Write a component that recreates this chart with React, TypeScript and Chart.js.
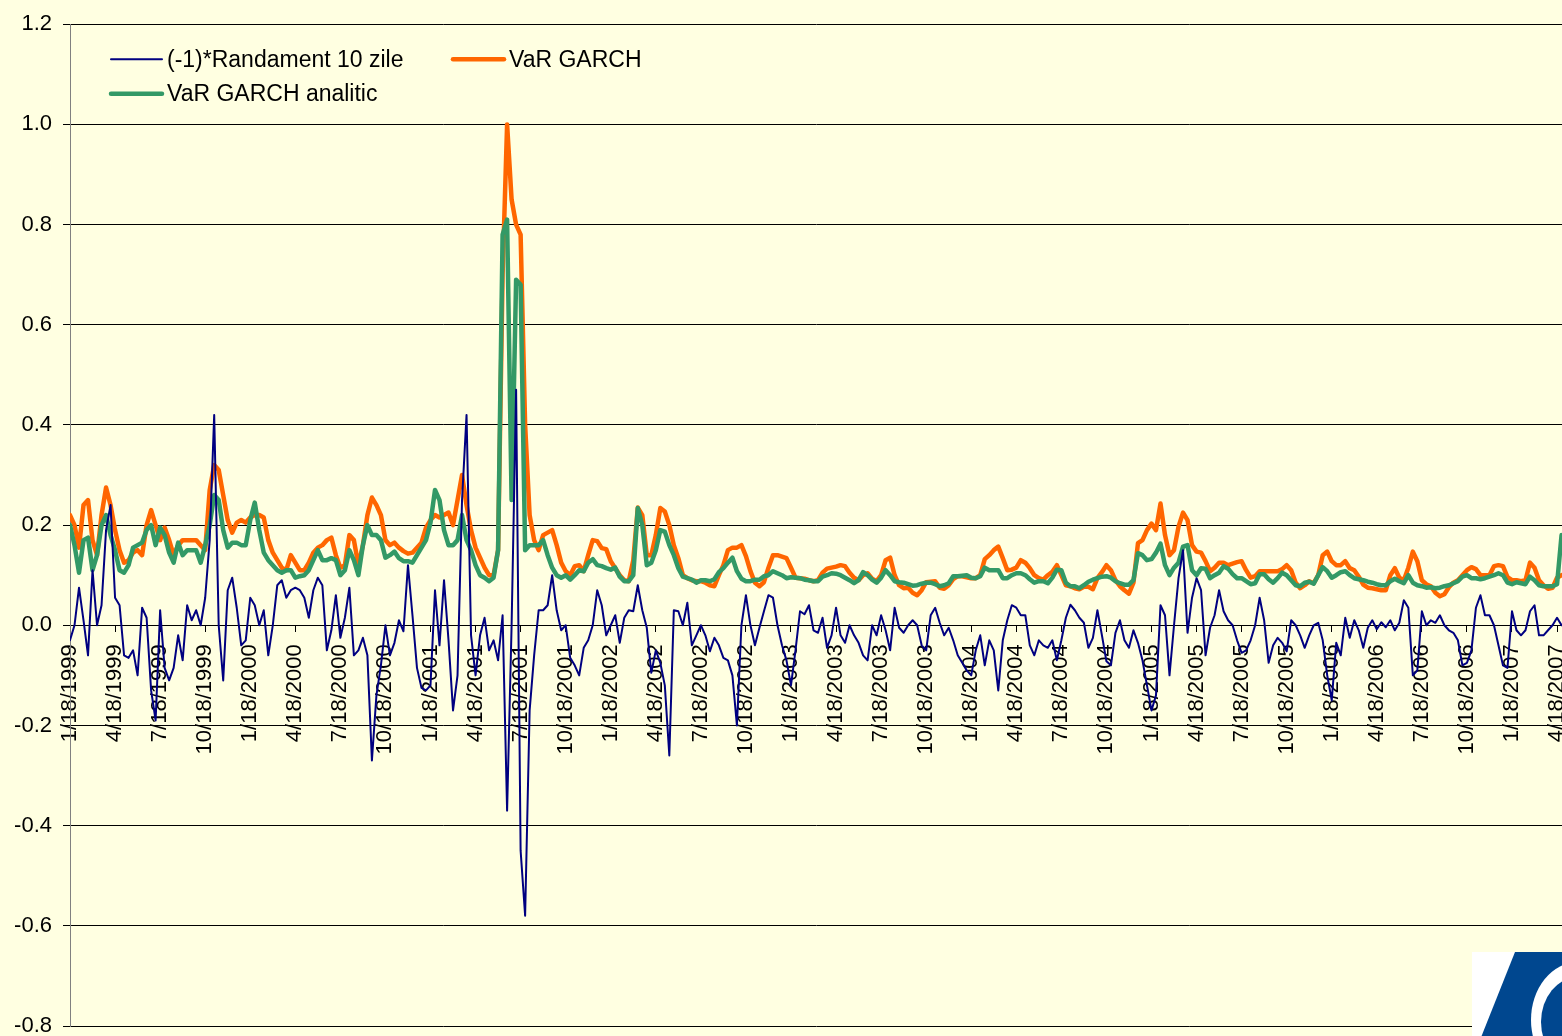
import React, { useEffect, useRef } from 'react';
import { Chart, registerables } from 'chart.js';

Chart.register(...registerables);

// ---------------- data ----------------
// values are sampled 10 times per quarter, starting 1/18/1999
const SAMPLES_PER_QUARTER = 10;

const quarterLabels = [
  '1/18/1999', '4/18/1999', '7/18/1999', '10/18/1999',
  '1/18/2000', '4/18/2000', '7/18/2000', '10/18/2000',
  '1/18/2001', '4/18/2001', '7/18/2001', '10/18/2001',
  '1/18/2002', '4/18/2002', '7/18/2002', '10/18/2002',
  '1/18/2003', '4/18/2003', '7/18/2003', '10/18/2003',
  '1/18/2004', '4/18/2004', '7/18/2004', '10/18/2004',
  '1/18/2005', '4/18/2005', '7/18/2005', '10/18/2005',
  '1/18/2006', '4/18/2006', '7/18/2006', '10/18/2006',
  '1/18/2007', '4/18/2007',
];

const yTickValues = [-0.8, -0.6, -0.4, -0.2, 0, 0.2, 0.4, 0.6, 0.8, 1.0, 1.2];

const seriesNames = ['(-1)*Randament 10 zile', 'VaR GARCH', 'VaR GARCH analitic'];
const seriesColors = ['#000080', '#FF6600', '#339966'];

const negReturn10d = [
  -0.03, 0.0, 0.075, 0.01, -0.06, 0.11, 0.0, 0.04, 0.19, 0.24,
  0.055, 0.04, -0.06, -0.065, -0.05, -0.1, 0.035, 0.015, -0.13, -0.19,
  0.03, -0.085, -0.11, -0.085, -0.02, -0.07, 0.04, 0.01, 0.03, 0.0,
  0.055, 0.17, 0.42, 0.0, -0.11, 0.07, 0.095, 0.035, -0.04, -0.03,
  0.055, 0.04, 0.0, 0.03, -0.06, 0.0, 0.08, 0.09, 0.055, 0.07,
  0.075, 0.07, 0.055, 0.015, 0.07, 0.095, 0.08, -0.05, -0.01, 0.06,
  -0.025, 0.015, 0.075, -0.06, -0.05, -0.025, -0.06, -0.27, -0.14, -0.08,
  0.0, -0.06, -0.035, 0.01, -0.012, 0.12, 0.02, -0.085, -0.125, -0.13,
  -0.12, 0.07, -0.04, 0.09, -0.03, -0.17, -0.1, 0.25, 0.42, -0.02,
  -0.1, -0.02, 0.015, -0.05, -0.03, -0.07, 0.02, -0.37, 0.0, 0.47,
  -0.45, -0.58, -0.17, -0.06, 0.03, 0.03, 0.04, 0.1, 0.03, -0.01,
  0.0, -0.065, -0.08, -0.1, -0.045, -0.03, 0.0, 0.07, 0.04, -0.02,
  0.0, 0.02, -0.035, 0.015, 0.03, 0.028, 0.08, 0.03, -0.005, -0.095,
  -0.05, -0.075, -0.12, -0.26, 0.03, 0.028, 0.0, 0.045, -0.04, -0.02,
  0.0, -0.02, -0.052, -0.025, -0.04, -0.065, -0.07, -0.1, -0.2, 0.0,
  0.06, 0.0, -0.04, -0.005, 0.028, 0.06, 0.055, 0.0, -0.04, -0.07,
  -0.12, -0.05, 0.028, 0.022, 0.04, -0.01, -0.015, 0.015, -0.045, -0.02,
  0.035, -0.02, -0.035, 0.0, -0.02, -0.035, -0.06, -0.07, 0.0, -0.02,
  0.02, -0.01, -0.05, 0.035, -0.005, -0.015, 0.0, 0.01, 0.0, -0.04,
  -0.05, 0.02, 0.035, 0.005, -0.02, -0.005, -0.03, -0.06, -0.075, -0.09,
  -0.1, -0.05, -0.02, -0.08, -0.03, -0.05, -0.13, -0.03, 0.01, 0.04,
  0.035, 0.02, 0.02, -0.04, -0.06, -0.03, -0.04, -0.045, -0.03, -0.07,
  -0.03, 0.015, 0.041, 0.03, 0.015, 0.005, -0.045, -0.025, 0.03, -0.02,
  -0.072, -0.08, -0.015, 0.01, -0.03, -0.045, -0.01, -0.035, -0.07, -0.12,
  -0.17, -0.14, 0.04, 0.02, -0.1, 0.0, 0.094, 0.15, -0.015, 0.055,
  0.094, 0.07, -0.06, -0.005, 0.02, 0.07, 0.028, 0.01, 0.0, -0.03,
  -0.055, -0.05, -0.03, 0.0, 0.055, 0.01, -0.075, -0.04, -0.025, -0.035,
  -0.052, 0.01, 0.0, -0.02, -0.045, -0.02, 0.0, 0.005, -0.03, -0.1,
  -0.15, -0.035, -0.06, 0.015, -0.025, 0.01, -0.01, -0.045, -0.005, 0.01,
  -0.008, 0.006, -0.004, 0.01, -0.01, 0.005, 0.05, 0.035, -0.1, -0.09,
  0.028, 0.0, 0.01, 0.005, 0.02, 0.0, -0.01, -0.015, -0.03, -0.08,
  -0.075, -0.05, 0.035, 0.06, 0.02, 0.02, 0.0, -0.04, -0.08, -0.085,
  0.028, -0.01, -0.02, -0.01, 0.028, 0.04, -0.02, -0.02, -0.01, 0.0,
  0.015, 0.0,
];

const varGarch = [
  0.22, 0.2, 0.155, 0.24, 0.25, 0.17, 0.14, 0.22, 0.275, 0.24,
  0.19, 0.15, 0.125, 0.13, 0.145, 0.15, 0.14, 0.2, 0.23, 0.2,
  0.17, 0.195, 0.17, 0.14, 0.16, 0.17, 0.17, 0.17, 0.17, 0.16,
  0.15, 0.27, 0.32, 0.31, 0.26, 0.21, 0.185, 0.205, 0.21, 0.205,
  0.215, 0.22, 0.22, 0.215, 0.17, 0.145, 0.13, 0.115, 0.11, 0.14,
  0.125, 0.11, 0.11, 0.125, 0.145, 0.155, 0.16, 0.17, 0.175, 0.14,
  0.115, 0.12, 0.18, 0.17, 0.12, 0.16, 0.22, 0.255, 0.24, 0.22,
  0.17, 0.16, 0.165, 0.155, 0.148, 0.143, 0.145, 0.155, 0.165, 0.195,
  0.21, 0.22, 0.215, 0.22, 0.225, 0.2, 0.25, 0.3, 0.24, 0.19,
  0.155, 0.135, 0.115, 0.1, 0.1, 0.15, 0.7, 1.0, 0.85, 0.8,
  0.78, 0.4, 0.22, 0.17, 0.15, 0.18, 0.185, 0.19, 0.16, 0.125,
  0.108, 0.1, 0.118, 0.12, 0.108, 0.14, 0.17, 0.168, 0.154, 0.152,
  0.128, 0.114, 0.1, 0.09, 0.088, 0.13, 0.235, 0.22, 0.14, 0.14,
  0.18, 0.234, 0.227, 0.2, 0.16, 0.134, 0.1, 0.094, 0.09, 0.088,
  0.088, 0.085, 0.08, 0.078, 0.1, 0.12, 0.15, 0.155, 0.155, 0.16,
  0.138, 0.108, 0.085, 0.078, 0.086, 0.115, 0.14, 0.14, 0.137, 0.134,
  0.115, 0.095, 0.094, 0.093, 0.09, 0.088, 0.09, 0.105, 0.113, 0.115,
  0.117, 0.12, 0.118, 0.105, 0.095, 0.09, 0.1, 0.104, 0.093, 0.088,
  0.1, 0.13, 0.135, 0.1, 0.08, 0.074, 0.075, 0.065, 0.06, 0.07,
  0.086, 0.087, 0.088, 0.075, 0.073, 0.08, 0.092, 0.098, 0.098, 0.096,
  0.094, 0.094, 0.1, 0.132, 0.14, 0.15, 0.157, 0.134, 0.11, 0.111,
  0.115, 0.13, 0.125, 0.114, 0.1, 0.094, 0.091, 0.1, 0.107, 0.12,
  0.1, 0.08, 0.078, 0.074, 0.072, 0.077, 0.077, 0.072, 0.094, 0.106,
  0.12, 0.11, 0.09, 0.078, 0.07, 0.063, 0.085, 0.164, 0.17, 0.19,
  0.203, 0.19, 0.243, 0.18, 0.14, 0.15, 0.197, 0.225, 0.21, 0.16,
  0.147, 0.145, 0.128, 0.108, 0.115, 0.125, 0.125, 0.12, 0.123, 0.126,
  0.128, 0.11, 0.095, 0.098, 0.108, 0.108, 0.108, 0.108, 0.108, 0.112,
  0.12, 0.11, 0.085, 0.074, 0.08, 0.088, 0.084, 0.1, 0.14, 0.147,
  0.128, 0.12, 0.12, 0.128, 0.114, 0.11, 0.097, 0.081, 0.075, 0.074,
  0.072, 0.07, 0.07, 0.1, 0.114, 0.095, 0.09, 0.115, 0.147, 0.128,
  0.09, 0.082, 0.078, 0.065, 0.058, 0.062, 0.076, 0.085, 0.09, 0.1,
  0.11, 0.116, 0.112, 0.1, 0.1, 0.1, 0.118, 0.12, 0.118, 0.096,
  0.09, 0.09, 0.088, 0.09, 0.125, 0.115, 0.09, 0.08, 0.073, 0.075,
  0.095, 0.1,
];

const varGarchAnalytic = [
  0.2, 0.16, 0.105, 0.17, 0.175, 0.11, 0.14, 0.2, 0.22, 0.18,
  0.15, 0.11, 0.105, 0.12, 0.155, 0.16, 0.165, 0.19, 0.2, 0.16,
  0.195, 0.18, 0.145, 0.125, 0.165, 0.14, 0.15, 0.15, 0.15, 0.125,
  0.16, 0.2, 0.26, 0.25, 0.19, 0.155, 0.165, 0.165, 0.16, 0.16,
  0.21, 0.245, 0.19, 0.145, 0.13, 0.12, 0.11, 0.105, 0.11, 0.11,
  0.095, 0.098, 0.1, 0.11, 0.13, 0.15, 0.13, 0.13, 0.134, 0.13,
  0.1, 0.11, 0.15, 0.13, 0.1, 0.16, 0.2, 0.18, 0.18, 0.17,
  0.135, 0.14, 0.147, 0.134, 0.128, 0.128, 0.125, 0.14, 0.155, 0.17,
  0.205, 0.27, 0.25, 0.19, 0.16, 0.16, 0.17, 0.22, 0.17, 0.15,
  0.12, 0.1, 0.095, 0.088, 0.095, 0.15, 0.78, 0.81, 0.25, 0.69,
  0.68, 0.15, 0.16, 0.16, 0.16, 0.17, 0.14, 0.115, 0.1, 0.095,
  0.1, 0.091, 0.1, 0.11, 0.108, 0.125, 0.132, 0.12, 0.118, 0.114,
  0.111, 0.115, 0.097, 0.088, 0.088, 0.1, 0.234, 0.2, 0.12, 0.125,
  0.15, 0.19, 0.187, 0.16, 0.14, 0.114, 0.097, 0.094, 0.091, 0.085,
  0.09, 0.09, 0.088, 0.092, 0.106, 0.114, 0.125, 0.135, 0.108, 0.093,
  0.088, 0.088, 0.091, 0.091, 0.098, 0.1, 0.108, 0.104, 0.1, 0.094,
  0.096, 0.095, 0.094, 0.091, 0.09, 0.088, 0.088, 0.097, 0.1, 0.104,
  0.103, 0.1, 0.095, 0.09, 0.084, 0.09, 0.106, 0.1, 0.091, 0.085,
  0.095, 0.11, 0.1, 0.088, 0.086, 0.085, 0.082, 0.079, 0.08, 0.083,
  0.085, 0.085, 0.082, 0.078, 0.08, 0.084, 0.098, 0.098, 0.099, 0.1,
  0.095, 0.094, 0.098, 0.115, 0.11, 0.11, 0.11, 0.094, 0.094, 0.1,
  0.104, 0.104, 0.1, 0.092, 0.085, 0.088, 0.088, 0.084, 0.095, 0.111,
  0.11, 0.085, 0.078, 0.078, 0.074, 0.08, 0.087, 0.091, 0.094, 0.097,
  0.098, 0.095, 0.088, 0.084, 0.081, 0.081, 0.09, 0.144, 0.14, 0.13,
  0.132, 0.145, 0.163, 0.12, 0.1, 0.115, 0.125, 0.157, 0.16, 0.11,
  0.1, 0.114, 0.113, 0.094, 0.1, 0.105, 0.118, 0.113, 0.102, 0.094,
  0.094, 0.088, 0.082, 0.084, 0.102, 0.102, 0.092, 0.085, 0.094, 0.105,
  0.1, 0.09, 0.08, 0.078, 0.085, 0.087, 0.083, 0.1, 0.116, 0.108,
  0.095, 0.1, 0.106, 0.108, 0.1, 0.094, 0.092, 0.09, 0.087, 0.085,
  0.082, 0.08, 0.08, 0.088, 0.093, 0.088, 0.084, 0.1, 0.085, 0.08,
  0.078, 0.075, 0.076, 0.074, 0.075, 0.078, 0.08, 0.084, 0.088, 0.097,
  0.1, 0.094, 0.094, 0.092, 0.094, 0.097, 0.1, 0.104, 0.1, 0.085,
  0.082, 0.086, 0.084, 0.082, 0.097, 0.09, 0.08, 0.078, 0.078, 0.078,
  0.082, 0.18,
];

// ---------------- styling ----------------
const BG = '#FFFFE1';
const FONT = '"Liberation Sans", Arial, Helvetica, sans-serif';
const X_MAX_QUARTERS = 33.11;

const toPoints = (arr: number[]) =>
  arr.map((y, i) => ({ x: i / SAMPLES_PER_QUARTER, y }));

const insideLegend = {
  id: 'insideLegend',
  afterDatasetsDraw(chart: any) {
    const { ctx, chartArea: a } = chart;
    const items = [
      { name: seriesNames[0], color: seriesColors[0], w: 2, dx: 41, dy: 35 },
      { name: seriesNames[1], color: seriesColors[1], w: 4.5, dx: 383, dy: 35 },
      { name: seriesNames[2], color: seriesColors[2], w: 4.5, dx: 41, dy: 69.5 },
    ];
    ctx.save();
    ctx.font = `23px ${FONT}`;
    ctx.textBaseline = 'middle';
    ctx.textAlign = 'left';
    for (const it of items) {
      const x = a.left + it.dx;
      const y = a.top + it.dy;
      ctx.strokeStyle = it.color;
      ctx.lineWidth = it.w;
      ctx.lineCap = 'round';
      ctx.beginPath();
      ctx.moveTo(x, y);
      ctx.lineTo(x + 51, y);
      ctx.stroke();
      ctx.fillStyle = '#000';
      ctx.fillText(it.name, x + 56, y + 1);
    }
    ctx.restore();
  },
};

const cornerLogo = {
  id: 'cornerLogo',
  afterDraw(chart: any) {
    const { ctx, width, height } = chart;
    ctx.save();
    ctx.fillStyle = '#FFFFFF';
    ctx.fillRect(width - 90, 952, 90, height - 952);
    ctx.fillStyle = '#00478F';
    ctx.beginPath();
    ctx.moveTo(width - 47, 952);
    ctx.lineTo(width, 952);
    ctx.lineTo(width, height);
    ctx.lineTo(width - 90, height);
    ctx.closePath();
    ctx.fill();
    ctx.fillStyle = '#FFFFFF';
    ctx.beginPath();
    ctx.ellipse(width + 16, 1020, 47, 58, 0, 0, Math.PI * 2);
    ctx.fill();
    ctx.fillStyle = '#00478F';
    ctx.beginPath();
    ctx.ellipse(width + 16, 1022, 37, 45, 0, 0, Math.PI * 2);
    ctx.fill();
    ctx.restore();
  },
};

export default function App() {
  const ref = useRef<HTMLCanvasElement>(null);

  useEffect(() => {
    document.body.style.background = BG;
    const canvas = ref.current;
    if (!canvas) return;
    const chart = new Chart(canvas, {
      type: 'line',
      data: {
        datasets: [
          {
            label: seriesNames[0],
            data: toPoints(negReturn10d),
            borderColor: seriesColors[0],
            borderWidth: 2,
          },
          {
            label: seriesNames[2],
            data: toPoints(varGarchAnalytic),
            borderColor: seriesColors[2],
            borderWidth: 4.5,
          },
          {
            label: seriesNames[1],
            data: toPoints(varGarch),
            borderColor: seriesColors[1],
            borderWidth: 4.5,
          },
        ],
      },
      options: {
        animation: false,
        responsive: false,
        maintainAspectRatio: false,
        events: [],
        layout: { padding: { left: 0, right: 0, top: 20, bottom: 34 } },
        elements: {
          point: { radius: 0 },
          line: { tension: 0, borderJoinStyle: 'round', borderCapStyle: 'round', fill: false },
        },
        plugins: {
          legend: { display: false },
          tooltip: { enabled: false },
          title: { display: false },
        },
        scales: {
          x: {
            type: 'linear',
            min: 0,
            max: X_MAX_QUARTERS,
            position: { y: 0 } as any,
            afterBuildTicks: (s: any) => {
              s.ticks = quarterLabels.map((_, i) => ({ value: i }));
            },
            afterFit: (s: any) => {
              s.paddingLeft = 0;
              s.paddingRight = 0;
            },
            ticks: {
              autoSkip: false,
              maxRotation: 90,
              minRotation: 90,
              padding: 13,
              color: '#000',
              font: { family: FONT, size: 22 },
              callback: (v: any) => quarterLabels[Math.round(Number(v))] ?? '',
            },
            grid: { drawOnChartArea: false, drawTicks: true, tickLength: 6, color: '#000' },
            border: { display: true, color: '#000', width: 1 },
          },
          y: {
            min: -0.8,
            max: 1.2,
            afterBuildTicks: (s: any) => {
              s.ticks = yTickValues.map((v) => ({ value: v }));
            },
            afterFit: (s: any) => {
              s.width = 70;
            },
            ticks: {
              color: '#000',
              padding: 11,
              font: { family: FONT, size: 22 },
              callback: (v: any) => Number(v).toFixed(1),
            },
            grid: { color: '#000', lineWidth: 1, tickLength: 7, drawTicks: true },
            border: { display: true, color: '#808080', width: 1 },
          },
        },
      },
      plugins: [insideLegend, cornerLogo],
    });
    return () => chart.destroy();
  }, []);

  return (
    <div
      style={{
        position: 'fixed',
        left: 0,
        top: 0,
        width: 1562,
        height: 1036,
        overflow: 'hidden',
        background: BG,
      }}
    >
      <canvas
        ref={ref}
        width={1562}
        height={1060}
        style={{ display: 'block', width: 1562, height: 1060 }}
      />
    </div>
  );
}
